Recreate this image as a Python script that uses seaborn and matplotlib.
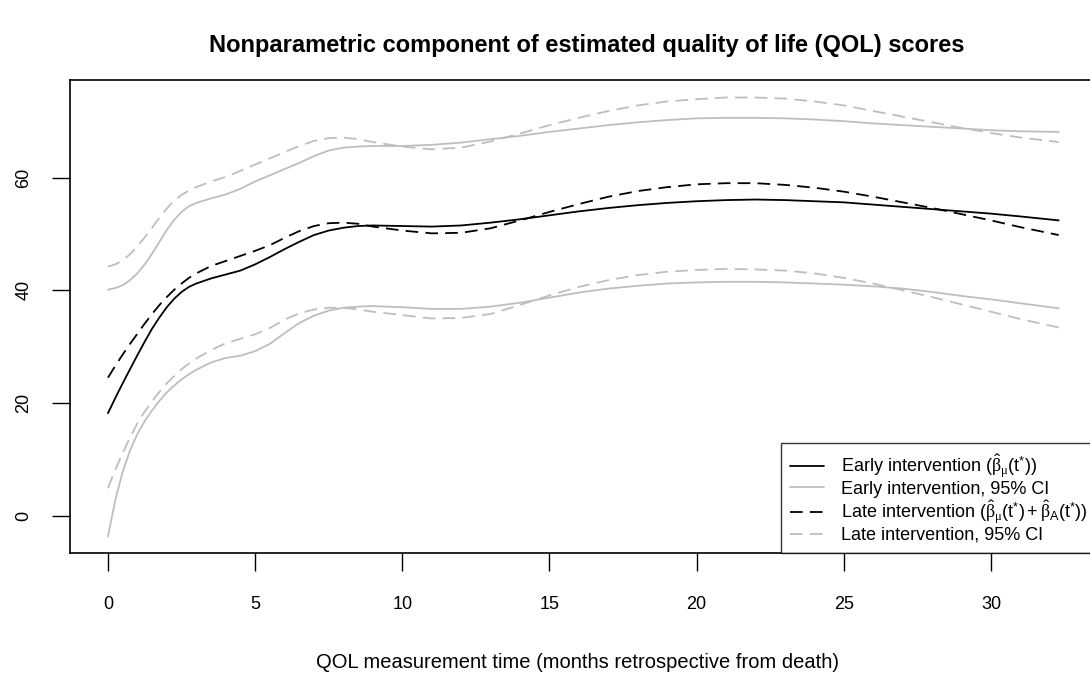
import pandas as pd
import matplotlib
matplotlib.use("Agg")
import matplotlib.pyplot as plt
from matplotlib.lines import Line2D
import seaborn as sns

# months retrospective from death
months = [0, 0.25, 0.5, 0.75, 1, 1.25, 1.5, 1.75, 2, 2.25, 2.5, 2.75, 3, 3.5, 4, 4.5,
          5, 5.5, 6, 6.5, 7, 7.5, 8, 8.5, 9, 10, 11, 12, 13, 14, 15, 16, 17, 18, 19,
          20, 21, 22, 23, 24, 25, 26, 27, 28, 29, 30, 31, 32.3]

early_est = [18.2, 20.9, 23.5, 26.0, 28.5, 30.9, 33.2, 35.2, 37.0, 38.5, 39.7, 40.6,
             41.2, 42.1, 42.8, 43.5, 44.6, 45.9, 47.3, 48.6, 49.8, 50.6, 51.1, 51.4,
             51.5, 51.4, 51.3, 51.5, 52.0, 52.6, 53.3, 54.0, 54.6, 55.1, 55.5, 55.8,
             56.0, 56.1, 56.0, 55.8, 55.6, 55.2, 54.8, 54.4, 54.0, 53.6, 53.1, 52.4]
early_upper = [40.1, 40.4, 40.9, 41.8, 43.0, 44.6, 46.5, 48.6, 50.7, 52.5, 53.9, 54.9,
               55.5, 56.3, 57.0, 58.0, 59.3, 60.4, 61.5, 62.6, 63.8, 64.8, 65.3, 65.5,
               65.6, 65.6, 65.8, 66.2, 66.8, 67.4, 68.1, 68.7, 69.3, 69.8, 70.2, 70.5,
               70.6, 70.6, 70.5, 70.3, 70.0, 69.6, 69.3, 69.0, 68.7, 68.4, 68.2, 68.1]
early_lower = [-3.7, 2.8, 7.8, 11.6, 14.5, 16.8, 18.7, 20.4, 21.9, 23.1, 24.2, 25.1,
               25.9, 27.2, 28.0, 28.4, 29.2, 30.5, 32.4, 34.2, 35.5, 36.4, 36.9, 37.1,
               37.2, 37.0, 36.7, 36.7, 37.1, 37.8, 38.7, 39.6, 40.3, 40.8, 41.2, 41.4,
               41.5, 41.5, 41.4, 41.2, 41.0, 40.7, 40.3, 39.7, 39.0, 38.4, 37.7, 36.8]
late_est = [24.5, 26.6, 28.6, 30.5, 32.3, 34.1, 35.8, 37.4, 38.8, 40.1, 41.2, 42.2,
            43.0, 44.3, 45.2, 46.1, 47.0, 48.0, 49.3, 50.5, 51.4, 51.9, 52.0, 51.8,
            51.3, 50.6, 50.1, 50.2, 51.0, 52.4, 53.9, 55.3, 56.6, 57.6, 58.3, 58.8,
            59.0, 59.0, 58.7, 58.2, 57.5, 56.6, 55.6, 54.6, 53.5, 52.4, 51.2, 49.8]
late_upper = [44.2, 44.6, 45.3, 46.4, 47.8, 49.4, 51.1, 52.9, 54.5, 55.9, 56.9, 57.7,
              58.3, 59.3, 60.1, 61.2, 62.3, 63.4, 64.5, 65.6, 66.5, 67.0, 67.1, 66.8,
              66.3, 65.5, 65.0, 65.3, 66.4, 67.8, 69.3, 70.6, 71.8, 72.8, 73.5, 73.9,
              74.2, 74.2, 74.0, 73.5, 72.8, 71.8, 70.8, 69.8, 68.8, 67.9, 67.1, 66.3]
late_lower = [4.9, 8.2, 11.1, 13.9, 16.4, 18.5, 20.3, 22.0, 23.5, 24.8, 26.0, 27.0,
              27.9, 29.4, 30.6, 31.4, 32.2, 33.3, 34.8, 35.9, 36.6, 36.9, 36.9, 36.6,
              36.2, 35.6, 35.0, 35.1, 35.8, 37.4, 39.1, 40.6, 41.8, 42.7, 43.3, 43.6,
              43.8, 43.7, 43.5, 43.0, 42.2, 41.2, 40.0, 38.8, 37.5, 36.2, 34.9, 33.4]

x_ticks = [0, 5, 10, 15, 20, 25, 30]
y_ticks = [0, 20, 40, 60]

labels = [r'Early intervention ($\hat{\beta}_{\mu}(\mathrm{t}^{*})$)',
          'Early intervention, 95% CI',
          r'Late intervention ($\hat{\beta}_{\mu}(\mathrm{t}^{*}) + \hat{\beta}_{\mathrm{A}}(\mathrm{t}^{*})$)',
          'Late intervention, 95% CI']

sns.set_style("white")
plt.rcParams['font.family'] = ['Liberation Sans', 'DejaVu Sans']
plt.rcParams['mathtext.fontset'] = 'custom'
plt.rcParams['mathtext.rm'] = 'Liberation Sans'
plt.rcParams['mathtext.it'] = 'Liberation Serif'
for key in ['text.color', 'axes.labelcolor', 'xtick.color', 'ytick.color']:
    plt.rcParams[key] = 'black'

fig = plt.figure(figsize=(10.9, 6.73), dpi=100)
ax = fig.add_axes([0.0642, 0.1783, 0.9422, 0.7028])

gray = '#BEBEBE'
dash = (7, 4)
lw = 1.3
series = [(early_upper, gray, '-'), (early_lower, gray, '-'),
          (late_upper, gray, '--'), (late_lower, gray, '--'),
          (early_est, 'black', '-'), (late_est, 'black', '--')]
for vals, col, ls in series:
    df = pd.DataFrame({'t': months, 'qol': vals})
    sns.lineplot(data=df, x='t', y='qol', ax=ax, color=col, linewidth=lw)
    if ls == '--':
        ax.lines[-1].set_dashes(dash)

ax.set_xlim(-1.29, 33.6)
ax.set_ylim(-6.6, 77.3)
ax.set_xticks(x_ticks)
ax.set_yticks(y_ticks)
ax.tick_params(axis='both', which='both', length=13, width=1, direction='out',
               labelsize=13, bottom=True, left=True)
ax.tick_params(axis='x', pad=18)
ax.tick_params(axis='y', pad=14)
for lab in ax.get_yticklabels():
    lab.set_rotation(90)
    lab.set_va('center')
for sp in ax.spines.values():
    sp.set_color('black')
    sp.set_linewidth(1.2)
ax.set_xlabel('')
ax.set_ylabel('')

handles = [Line2D([], [], color='black', lw=lw),
           Line2D([], [], color=gray, lw=lw),
           Line2D([], [], color='black', lw=lw, dashes=dash),
           Line2D([], [], color=gray, lw=lw, dashes=dash)]
leg = ax.legend(handles, labels, loc='lower right', borderaxespad=0, fontsize=13,
                frameon=True, fancybox=False, handlelength=1.9, labelspacing=0.05,
                borderpad=0.5, handletextpad=0.95)
leg.get_frame().set_edgecolor('black')
leg.get_frame().set_linewidth(1.0)

fig.text(0.5385, 0.933, 'Nonparametric component of estimated quality of life (QOL) scores',
         ha='center', va='center', fontsize=17, fontweight='bold')
fig.text(0.530, 0.015, 'QOL measurement time (months retrospective from death)',
         ha='center', va='center', fontsize=14.5)

fig.savefig('out.png', dpi=100)
